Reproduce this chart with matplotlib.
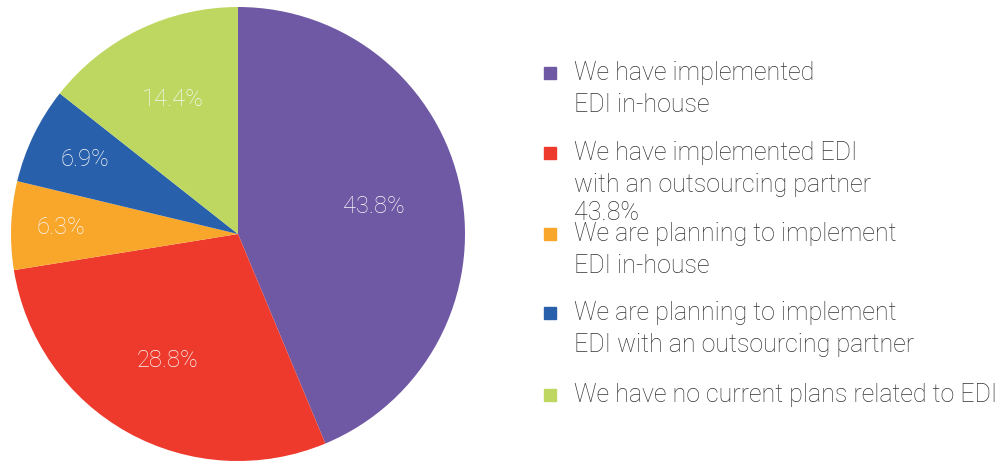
import numpy as np
import matplotlib.pyplot as plt

shares = [43.8, 28.8, 6.3, 6.9, 14.4]
colours = ['#6f58a4', '#ee3a2c', '#f9a72b', '#2860ac', '#bed761']
entries = [
    'We have implemented\nEDI in-house',
    'We have implemented EDI\nwith an outsourcing partner',
    'We are planning to implement\nEDI in-house',
    'We are planning to implement\nEDI with an outsourcing partner',
    'We have no current plans related to EDI',
]
# label distance from centre, as a fraction of the radius
label_r = [0.61, 0.64, 0.78, 0.75, 0.66]

W, H = 997, 462
fig = plt.figure(figsize=(W / 100, H / 100), dpi=100)
plt.rcParams['font.family'] = ['Roboto', 'DejaVu Sans']

ax = fig.add_axes([11 / W, 1 / H, 454 / W, 454 / H])
wedges, _ = ax.pie(shares, colors=colours, startangle=90, counterclock=False,
                   radius=1, wedgeprops=dict(linewidth=0))
ax.set_xlim(-1, 1)
ax.set_ylim(-1, 1)
ax.set_aspect('equal')
ax.axis('off')

for w, v, r in zip(wedges, shares, label_r):
    mid = np.deg2rad((w.theta1 + w.theta2) / 2)
    ax.text(r * np.cos(mid), r * np.sin(mid), '%.1f%%' % v, ha='center', va='center',
            color='#f7f7f7', fontsize=17, fontweight='light')

# legend drawn by hand: square marker plus wrapped text
row_y = [73, 153, 234, 313, 395]
for y, c, t in zip(row_y, colours, entries):
    fig.patches.append(plt.Rectangle((544 / W, 1 - (y + 6) / H), 12 / W, 12 / H,
                                     transform=fig.transFigure, color=c))
    fig.text(574 / W, 1 - (y - 12) / H, t, ha='left', va='top', color='#333333',
             fontsize=18, fontweight='light', linespacing=1.4)

# stray value printed under the second entry
fig.text(574 / W, 1 - 213 / H, '%.1f%%' % shares[0], ha='left', va='center',
         color='#333333', fontsize=18, fontweight='light')

fig.savefig('out.png', dpi=100)
